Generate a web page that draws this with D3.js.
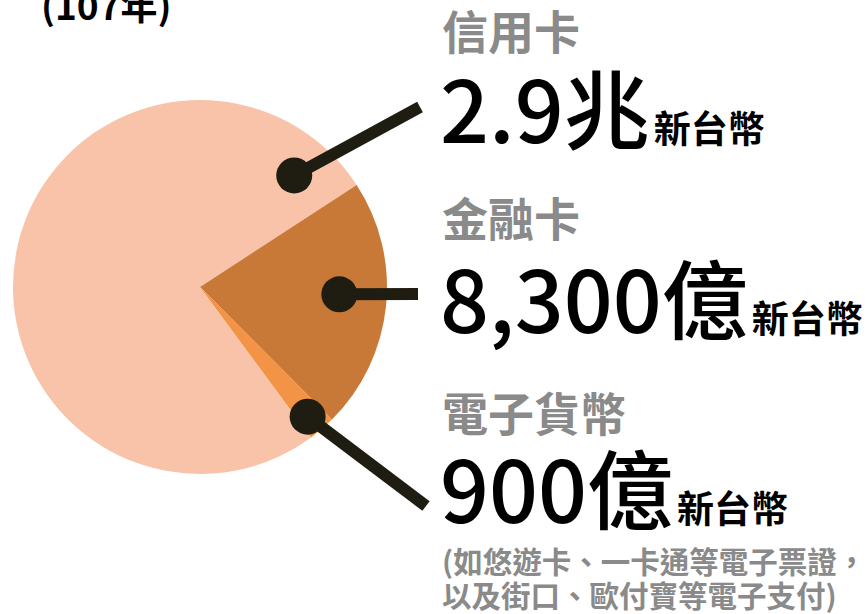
<!DOCTYPE html>
<html>
<head>
<meta charset="utf-8">
<title>電子支付 (107年)</title>
<script src="https://d3js.org/d3.v7.min.js"></script>
<style>
  html, body { margin: 0; padding: 0; background: #fff; }
  svg text { font-family: "Noto Sans CJK TC", "Noto Sans", sans-serif; }
</style>
</head>
<body>
<div id="chart"></div>
<script>
// amounts in 億 新台幣
var categories = ["信用卡", "金融卡", "電子貨幣"];
var amounts = [29000, 8300, 900];
var valueLabels = ["2.9兆", "8,300億", "900億"];
var unitLabel = "新台幣";
var yearLabel = "(107年)";
var noteLines = ["(如悠遊卡、一卡通等電子票證，", "以及街口、歐付寶等電子支付)"];

var colors = ["#f9c3a9", "#c97937", "#f39345"];
var ink = "#1f1d12";
var grey = "#8a8a8a";

var width = 867, height = 614;
var cx = 200, cy = 287, radius = 187;

var svg = d3.select("#chart").append("svg")
    .attr("width", width)
    .attr("height", height);

var deg = Math.PI / 180;
var pie = d3.pie().sort(null)
    .startAngle(143.6 * deg)
    .endAngle(503.6 * deg);
var arc = d3.arc().innerRadius(0).outerRadius(radius);

var arcs = pie(amounts);

svg.append("g")
    .attr("transform", `translate(${cx}, ${cy})`)
    .selectAll("path")
    .data(arcs)
    .enter()
    .append("path")
    .attr("d", arc)
    .attr("fill", function(d, i) { return colors[i]; });

// callouts: dot on the slice, thick line to the label column
var callouts = [
    { angle: 40.2, r: 146, x2: 420, y2: 107 },
    { angle: 93, r: 139.5, x2: 418, y2: 294 },
    { angle: 140.3, r: 168.5, x2: 426, y2: 506 }
];

var g = svg.append("g");
callouts.forEach(function(c) {
    var x1 = cx + c.r * Math.sin(c.angle * deg);
    var y1 = cy - c.r * Math.cos(c.angle * deg);
    g.append("line")
        .attr("x1", x1).attr("y1", y1)
        .attr("x2", c.x2).attr("y2", c.y2)
        .attr("stroke", ink)
        .attr("stroke-width", 12);
    g.append("circle")
        .attr("cx", x1).attr("cy", y1)
        .attr("r", 18)
        .attr("fill", ink);
});

svg.append("text")
    .attr("x", 41)
    .attr("y", 20)
    .style("font-size", "37px")
    .style("font-weight", 700)
    .attr("fill", "#000")
    .text(yearLabel);

var labelX = 442;
var nameY = [49, 236, 431];
var valueY = [143, 333, 523];

categories.forEach(function(name, i) {
    svg.append("text")
        .attr("x", labelX)
        .attr("y", nameY[i])
        .style("font-size", "46px")
        .style("font-weight", 700)
        .attr("fill", grey)
        .text(name);

    var t = svg.append("text")
        .attr("x", labelX - 2)
        .attr("y", valueY[i])
        .attr("fill", "#000");
    t.append("tspan")
        .style("font-size", "86px")
        .style("font-weight", 500)
        .text(valueLabels[i]);
    t.append("tspan")
        .attr("dx", 4)
        .style("font-size", "37px")
        .style("font-weight", 700)
        .text(unitLabel);
});

noteLines.forEach(function(line, i) {
    svg.append("text")
        .attr("x", labelX)
        .attr("y", 573 + i * 34)
        .style("font-size", "29.5px")
        .style("font-weight", 700)
        .attr("fill", grey)
        .text(line);
});
</script>
</body>
</html>
